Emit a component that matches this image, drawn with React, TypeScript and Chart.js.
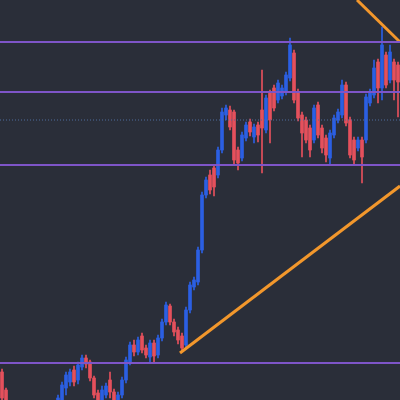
import { useEffect, useRef } from "react";
import { Chart, registerables } from "chart.js";

Chart.register(...registerables);

const opens = [28, 10, -15, -25, -20, -30, -26, -34, -28, -20, -26, -18, -12, -18, -20, 0, 12, 18, 30, 20, 33, 42, 38, 22, 7, 0, 5, 20, 8, -5, 5, 20, 38, 55, 48, 64, 52, 43, 57, 45, 62, 78, 94, 78, 70, 64, 55, 90, 113, 118, 150, 205, 225, 232, 225, 250, 285, 290, 288, 250, 242, 262, 278, 263, 275, 290, 270, 307, 312, 300, 304, 308, 322, 347, 308, 285, 280, 272, 260, 295, 272, 262, 242, 265, 280, 285, 315, 280, 260, 252, 260, 260, 297, 305, 338, 312, 345, 320, 338, 335];
const closes = [2, -15, -25, -20, -30, -26, -34, -28, -20, -26, -18, -12, -18, -5, 2, 15, 25, 28, 18, 35, 42, 36, 22, 5, -5, 10, 14, 8, -8, 5, 20, 40, 55, 48, 60, 50, 45, 57, 44, 62, 78, 95, 78, 68, 60, 52, 90, 115, 120, 150, 205, 220, 210, 213, 250, 288, 292, 273, 240, 237, 265, 275, 268, 273, 265, 272, 302, 280, 292, 317, 312, 325, 355, 300, 282, 267, 260, 250, 292, 265, 252, 245, 267, 282, 288, 315, 277, 245, 240, 260, 243, 303, 308, 332, 312, 355, 315, 348, 320, 318];
const highs = [31, 12, -12, -18, -16, -24, -22, -25, -18, -16, -14, -8, -6, -2, 5, 18, 28, 31, 34, 38, 45, 45, 40, 24, 10, 14, 17, 28, 11, 8, 23, 43, 58, 60, 63, 67, 55, 60, 60, 65, 81, 98, 96, 81, 73, 67, 93, 118, 123, 153, 208, 223, 230, 235, 253, 292, 295, 294, 290, 253, 268, 278, 281, 276, 278, 330, 305, 310, 315, 320, 315, 328, 362, 350, 311, 288, 283, 275, 295, 298, 275, 265, 270, 285, 291, 320, 318, 283, 263, 263, 263, 306, 311, 340, 341, 373, 348, 355, 341, 338];
const lows = [-5, -18, -30, -32, -35, -36, -40, -42, -32, -30, -30, -24, -22, -22, -24, -4, 5, 14, 14, 16, 30, 32, 19, 2, -10, -5, 2, 2, -12, -10, 2, 17, 35, 44, 45, 47, 42, 37, 38, 42, 59, 75, 75, 64, 56, 48, 52, 87, 110, 115, 147, 202, 206, 204, 222, 247, 280, 270, 235, 230, 239, 259, 264, 257, 258, 227, 267, 257, 289, 297, 301, 305, 319, 297, 279, 243, 257, 243, 257, 262, 247, 238, 235, 262, 277, 282, 274, 242, 235, 249, 217, 257, 294, 302, 297, 300, 312, 317, 300, 283];

const levels = [358, 308, 235, 37];
const midLevel = 280;
const trendUpStart = { x: 45, y: 47 };
const trendUpEnd = { x: 100, y: 214 };
const trendDownStart = { x: 89.25, y: 400 };
const trendDownEnd = { x: 100, y: 358 };

const BULL = "#2b5fe3";
const BEAR = "#e5505c";
const PURPLE = "#7e55c8";
const ORANGE = "#f2972c";
const BG = "#2a2e39";

export default function App() {
  const ref = useRef<HTMLCanvasElement>(null);

  useEffect(() => {
    if (!ref.current) return;
    const colors = opens.map((o, i) => (closes[i] >= o ? BULL : BEAR));
    const wicks = opens.map((_, i) => ({ x: i + 0.5, y: [lows[i], highs[i]] }));
    const bodies = opens.map((o, i) => ({ x: i + 0.5, y: [o, closes[i]] }));

    const lineDs = (data: any[], color: string, width: number, dash: number[] = []) => ({
      type: "line" as const,
      data,
      borderColor: color,
      borderWidth: width,
      borderDash: dash,
      pointRadius: 0,
      fill: false,
      order: 0,
    });

    const chart = new Chart(ref.current, {
      type: "bar",
      data: {
        datasets: [
          ...levels.map((v) => lineDs([{ x: 0, y: v }, { x: 100, y: v }], PURPLE, 2)),
          lineDs([{ x: 0, y: midLevel }, { x: 100, y: midLevel }], "#4f6d9e", 1, [1, 2]),
          lineDs([trendUpStart, trendUpEnd], ORANGE, 3),
          lineDs([trendDownStart, trendDownEnd], ORANGE, 3),
          {
            type: "bar",
            data: wicks as any,
            backgroundColor: colors,
            barThickness: 1,
            grouped: false,
            borderWidth: 0,
            order: 2,
          },
          {
            type: "bar",
            data: bodies as any,
            backgroundColor: colors,
            barThickness: 3,
            grouped: false,
            borderWidth: 0,
            order: 1,
          },
        ] as any,
      },
      options: {
        animation: false,
        responsive: true,
        maintainAspectRatio: false,
        layout: { padding: 0, autoPadding: false },
        plugins: { legend: { display: false }, tooltip: { enabled: false } },
        scales: {
          x: { type: "linear", min: 0, max: 100, display: false, offset: false },
          y: { type: "linear", min: 0, max: 400, display: false },
        },
      },
    });
    return () => chart.destroy();
  }, []);

  return (
    <div style={{ position: "fixed", left: 0, top: 0, width: 400, height: 400, background: BG }}>
      <canvas ref={ref} />
    </div>
  );
}
